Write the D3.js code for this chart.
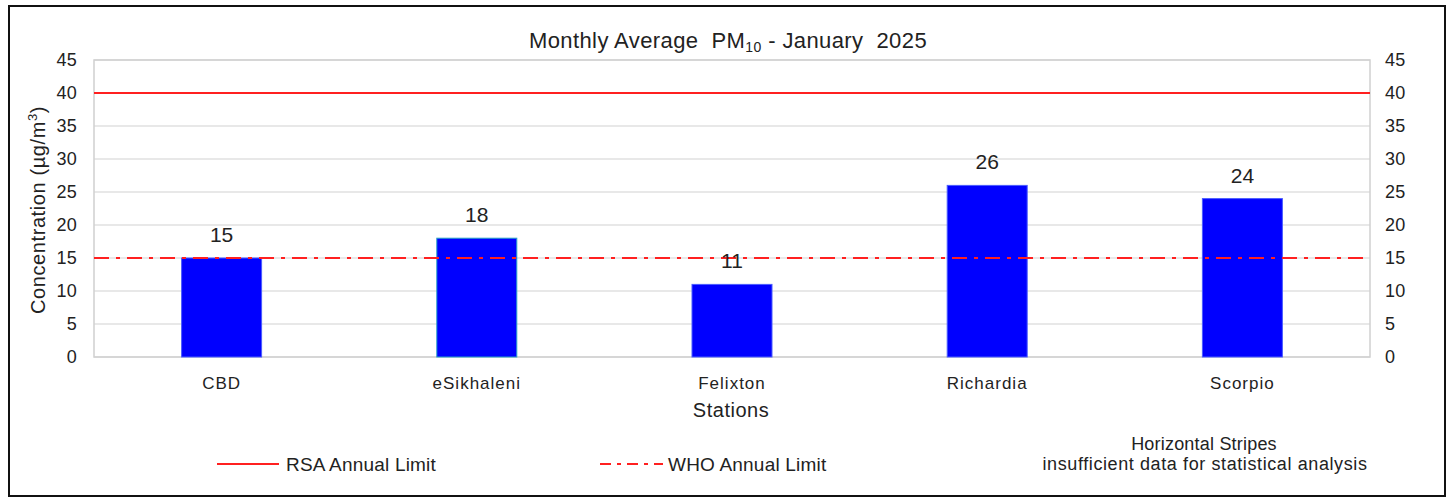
<!DOCTYPE html>
<html>
<head>
<meta charset="utf-8">
<script src="https://cdn.jsdelivr.net/npm/d3@7"></script>
<style>
  body { margin: 0; background: #fff; }
  text { font-family: Arial, "Liberation Sans", sans-serif; fill: #222; }
</style>
</head>
<body>
<svg id="Viz"></svg>
<script>
var width = 1453,
    height = 499;

// data
var stations = ["CBD", "eSikhaleni", "Felixton", "Richardia", "Scorpio"];
var pm10 = [15, 18, 11, 26, 24];
var yTicks = [0, 5, 10, 15, 20, 25, 30, 35, 40, 45];
var rsaLimit = 40;
var whoLimit = 15;

var margin = {left: 94, right: 83, top: 60, bottom: 142};

var svg = d3.select("#Viz").attr("width", width).attr("height", height);

// outer frame
svg.append("rect")
    .attr("x", 9).attr("y", 6)
    .attr("width", 1436).attr("height", 490)
    .attr("fill", "none").attr("stroke", "#111").attr("stroke-width", 2);

var x = d3.scaleBand()
    .domain(stations)
    .range([margin.left, width - margin.right]);

var y = d3.scaleLinear()
    .domain([0, 45])
    .range([height - margin.bottom, margin.top]);

// gridlines
svg.append("g")
    .selectAll("line")
    .data(yTicks)
    .enter()
    .append("line")
      .attr("x1", margin.left)
      .attr("x2", width - margin.right)
      .attr("y1", function(d){ return y(d) })
      .attr("y2", function(d){ return y(d) })
      .style("stroke", "#e0e0e0")
      .style("stroke-width", 1.5);

// plot border
svg.append("rect")
    .attr("x", margin.left).attr("y", margin.top)
    .attr("width", width - margin.right - margin.left)
    .attr("height", y(0) - margin.top)
    .attr("fill", "none").attr("stroke", "#d0d0d0").attr("stroke-width", 1.5);

// left + right axes
var leftAxis = svg.append("g")
    .attr("transform", "translate(" + margin.left + ",0)")
    .call(d3.axisLeft(y).tickValues(yTicks).tickSize(0).tickPadding(17));
var rightAxis = svg.append("g")
    .attr("transform", "translate(" + (width - margin.right) + ",0)")
    .call(d3.axisRight(y).tickValues(yTicks).tickSize(0).tickPadding(15));
[leftAxis, rightAxis].forEach(function(a){
  a.select(".domain").remove();
  a.selectAll("text")
    .style("font-size", "18px")
    .style("letter-spacing", "0.3px")
    .style("font-family", "Arial, 'Liberation Sans', sans-serif")
    .attr("fill", "#222");
});

// bars
var barW = 80;
svg.append("g")
    .selectAll("rect")
    .data(stations)
    .enter()
    .append("rect")
      .attr("x", function(d){ return x(d) + x.bandwidth()/2 - barW/2 })
      .attr("y", function(d, i){ return y(pm10[i]) })
      .attr("width", barW)
      .attr("height", function(d, i){ return y(0) - y(pm10[i]) })
      .attr("fill", "#0000ff")
      .style("stroke", function(d){ return d == "eSikhaleni" ? "#2aa0c8" : "#4a5cff" })
      .style("stroke-width", 1);

// limit lines
svg.append("line")
    .attr("x1", margin.left).attr("x2", width - margin.right)
    .attr("y1", y(rsaLimit)).attr("y2", y(rsaLimit))
    .style("stroke", "#ff2020").style("stroke-width", 2);
svg.append("line")
    .attr("x1", margin.left).attr("x2", width - margin.right)
    .attr("y1", y(whoLimit)).attr("y2", y(whoLimit))
    .style("stroke", "#ff2020").style("stroke-width", 2)
    .style("stroke-dasharray", "15,7,4,7");

// value labels
svg.append("g")
    .selectAll("text")
    .data(stations)
    .enter()
    .append("text")
      .attr("x", function(d){ return x(d) + x.bandwidth()/2 })
      .attr("y", function(d, i){ return y(pm10[i]) - 16 })
      .attr("text-anchor", "middle")
      .style("font-size", "21px")
      .text(function(d, i){ return pm10[i] });

// category labels
svg.append("g")
    .selectAll("text")
    .data(stations)
    .enter()
    .append("text")
      .attr("x", function(d){ return x(d) + x.bandwidth()/2 })
      .attr("y", 389)
      .attr("text-anchor", "middle")
      .style("font-size", "17px")
      .style("letter-spacing", "1px")
      .text(function(d){ return d });

// title
var title = svg.append("text")
    .attr("x", 728).attr("y", 48)
    .attr("text-anchor", "middle")
    .style("white-space", "pre")
    .style("font-size", "22px")
    .style("letter-spacing", "0.4px");
title.append("tspan").text("Monthly Average  PM");
title.append("tspan").attr("dy", 4).style("font-size", "14px").text("10");
title.append("tspan").attr("dy", -4).text(" - January  2025");

// axis titles
svg.append("text")
    .attr("x", 731).attr("y", 417)
    .attr("text-anchor", "middle")
    .style("font-size", "20px")
    .style("letter-spacing", "0.5px")
    .text("Stations");

var yt = svg.append("text")
    .attr("transform", "translate(45,210) rotate(-90)")
    .attr("text-anchor", "middle")
    .style("font-size", "20px")
    .style("letter-spacing", "0.6px");
yt.append("tspan").text("Concentration (µg/m");
yt.append("tspan").attr("dy", -8).style("font-size", "13px").text("3");
yt.append("tspan").attr("dy", 8).text(")");

// legend
svg.append("line")
    .attr("x1", 217).attr("x2", 279).attr("y1", 464).attr("y2", 464)
    .style("stroke", "#ff2020").style("stroke-width", 2);
svg.append("text")
    .attr("x", 286).attr("y", 471)
    .style("font-size", "19px")
    .style("letter-spacing", "0.2px")
    .text("RSA Annual Limit");

svg.append("line")
    .attr("x1", 600).attr("x2", 663).attr("y1", 464).attr("y2", 464)
    .style("stroke", "#ff2020").style("stroke-width", 2)
    .style("stroke-dasharray", "11,6,4,6");
svg.append("text")
    .attr("x", 668).attr("y", 471)
    .style("font-size", "19px")
    .style("letter-spacing", "0.2px")
    .text("WHO Annual Limit");

svg.append("text")
    .attr("x", 1204).attr("y", 450)
    .attr("text-anchor", "middle")
    .style("font-size", "18px")
    .style("letter-spacing", "0.2px")
    .text("Horizontal Stripes");
svg.append("text")
    .attr("x", 1205).attr("y", 470)
    .attr("text-anchor", "middle")
    .style("font-size", "18px")
    .style("letter-spacing", "0.6px")
    .text("insufficient data for statistical analysis");
</script>
</body>
</html>
